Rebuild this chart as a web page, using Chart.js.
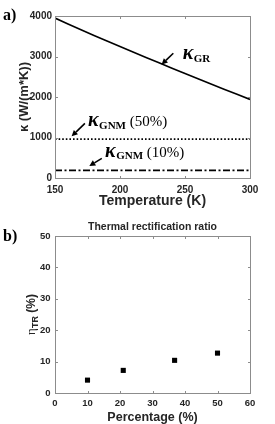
<!DOCTYPE html>
<html>
<head>
<meta charset="utf-8">
<script src="https://cdn.jsdelivr.net/npm/chart.js@4.4.1/dist/chart.umd.min.js"></script>
<style>
  html, body { margin: 0; padding: 0; background: #fff; }
  #wrap { position: relative; width: 275px; height: 424px; overflow: hidden; }
  canvas { position: absolute; left: 0; }
  .panel { position: absolute; font: bold 16px "Liberation Serif", "DejaVu Serif", serif; color: #000; line-height: 1; }
</style>
</head>
<body>
<div id="wrap">
  <canvas id="kChart" width="275" height="212" style="top:0"></canvas>
  <canvas id="trChart" width="275" height="212" style="top:212px"></canvas>
  <div class="panel" style="left:3px;top:7px">a)</div>
  <div class="panel" style="left:3px;top:228px">b)</div>
</div>
<script>
// panel a: thermal conductivity vs temperature
const tempK = [150, 160, 170, 180, 190, 200, 210, 220, 230, 240, 250, 260, 270, 280, 290, 300];
const kappaGR = [3950, 3805, 3662, 3521, 3382, 3245, 3110, 2976, 2843, 2711, 2580, 2450, 2321, 2193, 2066, 1940];
const gnmTemps = [150, 300];
const kappaGNM50 = [960, 960];
const kappaGNM10 = [190, 190];
const tempTicks = [150, 200, 250, 300];
const kappaTicks = [0, 1000, 2000, 3000, 4000];

// panel b: rectification ratio vs GNM percentage
const percentGNM = [10, 21, 36.8, 50];
const etaTR = [4.1, 7.2, 10.4, 12.7];
const percentTicks = [0, 10, 20, 30, 40, 50, 60];
const etaTicks = [0, 10, 20, 30, 40, 50];

const SANS = '"Liberation Sans", Arial, sans-serif';
const SERIF = '"Liberation Serif", "DejaVu Serif", serif';
const TEXT = '#262626';

// arrows + kappa labels, anchored in data units
const kLabels = [
  { sub: 'GR', suffix: '', at: [248.2, 2938], tail: [241, 3080], tip: [232, 2800] },
  { sub: 'GNM', suffix: ' (50%)', at: [175.4, 1272], tail: [173, 1350], tip: [162.8, 1030] },
  { sub: 'GNM', suffix: ' (10%)', at: [188.5, 519], tail: [186, 486], tip: [176.4, 296] },
];

function fixedTicks(list) {
  return scale => { scale.ticks = list.map(v => ({ value: v })); };
}

// MATLAB style box with inward ticks on all four sides
const framePlugin = {
  id: 'frame',
  afterDraw(chart) {
    const { ctx, chartArea: a, scales: { x, y } } = chart;
    const L = Math.round(a.left) + 0.5, R = Math.round(a.right) + 0.5;
    const T = Math.round(a.top) + 0.5, B = Math.round(a.bottom) + 0.5;
    ctx.save();
    ctx.strokeStyle = '#8c8c8c';
    ctx.lineWidth = 1;
    ctx.strokeRect(L, T, R - L, B - T);
    ctx.beginPath();
    x.ticks.forEach(t => {
      const px = Math.round(x.getPixelForValue(t.value)) + 0.5;
      ctx.moveTo(px, B); ctx.lineTo(px, B - 2.5);
      ctx.moveTo(px, T); ctx.lineTo(px, T + 2.5);
    });
    y.ticks.forEach(t => {
      const py = Math.round(y.getPixelForValue(t.value)) + 0.5;
      ctx.moveTo(L, py); ctx.lineTo(L + 2.5, py);
      ctx.moveTo(R, py); ctx.lineTo(R - 2.5, py);
    });
    ctx.stroke();
    ctx.restore();
  }
};

function arrow(ctx, x0, y0, x1, y1) {
  const ang = Math.atan2(y1 - y0, x1 - x0);
  const head = 6, half = 3;
  const bx = x1 - head * Math.cos(ang), by = y1 - head * Math.sin(ang);
  ctx.beginPath();
  ctx.moveTo(x0, y0); ctx.lineTo(bx, by);
  ctx.stroke();
  ctx.beginPath();
  ctx.moveTo(x1, y1);
  ctx.lineTo(bx + half * Math.sin(ang), by - half * Math.cos(ang));
  ctx.lineTo(bx - half * Math.sin(ang), by + half * Math.cos(ang));
  ctx.closePath();
  ctx.fill();
}

const kappaLabelPlugin = {
  id: 'kappaLabels',
  afterDraw(chart) {
    const { ctx, scales: { x, y } } = chart;
    ctx.save();
    ctx.fillStyle = '#000';
    ctx.strokeStyle = '#000';
    ctx.lineWidth = 1.6;
    ctx.textBaseline = 'alphabetic';
    kLabels.forEach(l => {
      arrow(ctx, x.getPixelForValue(l.tail[0]), y.getPixelForValue(l.tail[1]),
                 x.getPixelForValue(l.tip[0]), y.getPixelForValue(l.tip[1]));
      let px = x.getPixelForValue(l.at[0]);
      const py = y.getPixelForValue(l.at[1]);
      ctx.font = 'bold italic 20px ' + SERIF;
      ctx.fillText('κ', px, py);
      px += ctx.measureText('κ').width + 0.5;
      ctx.font = 'bold 11px ' + SERIF;
      ctx.fillText(l.sub, px, py + 2.5);
      px += ctx.measureText(l.sub).width;
      if (l.suffix) {
        ctx.font = '15px ' + SERIF;
        ctx.fillText(l.suffix, px, py);
      }
    });
    ctx.restore();
  }
};

// title and eta_TR y label of panel b
const trTextPlugin = {
  id: 'trText',
  afterDraw(chart) {
    const { ctx, chartArea: a } = chart;
    ctx.save();
    ctx.fillStyle = TEXT;
    ctx.font = 'bold 10.5px ' + SANS;
    ctx.textAlign = 'center';
    ctx.textBaseline = 'middle';
    ctx.fillText('Thermal rectification ratio', (a.left + a.right) / 2, a.top - 9);

    const cy = (a.top + a.bottom) / 2;
    const main = 'bold 12px ' + SANS, small = 'bold 9px ' + SANS;
    ctx.font = '13px ' + SERIF;
    const wEta = ctx.measureText('η').width;
    ctx.font = small;
    const wSub = ctx.measureText('TR').width;
    ctx.font = main;
    const wPct = ctx.measureText(' (%)').width;
    const total = wEta + wSub + wPct;
    ctx.translate(35, cy);
    ctx.rotate(-Math.PI / 2);
    ctx.textAlign = 'left';
    ctx.textBaseline = 'alphabetic';
    let px = -total / 2;
    ctx.font = '13px ' + SERIF;
    ctx.fillText('η', px, 0);
    px += wEta;
    ctx.font = small;
    ctx.fillText('TR', px, 3);
    px += wSub;
    ctx.font = main;
    ctx.fillText(' (%)', px, 0);
    ctx.restore();
  }
};

const plainTick = v => String(v);

new Chart(document.getElementById('kChart'), {
  type: 'line',
  data: {
    datasets: [
      { data: tempK.map((t, i) => ({ x: t, y: kappaGR[i] })), borderColor: '#000', borderWidth: 1.6, pointRadius: 0, tension: 0 },
      { data: gnmTemps.map((t, i) => ({ x: t, y: kappaGNM50[i] })), borderColor: '#000', borderWidth: 1.6, borderDash: [1.6, 2], pointRadius: 0 },
      { data: gnmTemps.map((t, i) => ({ x: t, y: kappaGNM10[i] })), borderColor: '#000', borderWidth: 1.8, borderDash: [7, 2.5, 2, 2.5], pointRadius: 0 },
    ]
  },
  options: {
    responsive: false,
    animation: false,
    devicePixelRatio: 1,
    layout: { padding: { top: 16, right: 25, left: 0, bottom: 0 } },
    plugins: { legend: { display: false }, tooltip: { enabled: false } },
    scales: {
      x: {
        type: 'linear', min: 150, max: 300,
        afterBuildTicks: fixedTicks(tempTicks),
        afterFit: s => { s.height = 34; },
        grid: { display: false, drawTicks: false }, border: { display: false },
        ticks: { color: TEXT, padding: 6.3, callback: plainTick, font: { family: SANS, size: 10, weight: 'bold' } },
        title: { display: true, text: 'Temperature (K)', color: TEXT, padding: { top: 0, bottom: 3.5 },
                 font: { family: SANS, size: 14, weight: 'bold', lineHeight: 1 } }
      },
      y: {
        type: 'linear', min: 0, max: 4000,
        afterBuildTicks: fixedTicks(kappaTicks),
        afterFit: s => { s.width = 55; },
        grid: { display: false, drawTicks: false }, border: { display: false },
        ticks: { color: TEXT, padding: 3, callback: plainTick, font: { family: SANS, size: 10, weight: 'bold' } },
        title: { display: true, text: 'κ (W/(m*K))', color: TEXT, padding: { top: 17.5, bottom: 0 },
                 font: { family: SANS, size: 13, weight: 'bold', lineHeight: 1 } }
      }
    }
  },
  plugins: [framePlugin, kappaLabelPlugin]
});

new Chart(document.getElementById('trChart'), {
  type: 'scatter',
  data: {
    datasets: [{
      data: percentGNM.map((p, i) => ({ x: p, y: etaTR[i] })),
      pointStyle: 'rect', pointRadius: 3.6, borderWidth: 0, backgroundColor: '#000'
    }]
  },
  options: {
    responsive: false,
    animation: false,
    devicePixelRatio: 1,
    layout: { padding: { top: 24, right: 25, left: 0, bottom: 0 } },
    plugins: { legend: { display: false }, tooltip: { enabled: false } },
    scales: {
      x: {
        type: 'linear', min: 0, max: 60,
        afterBuildTicks: fixedTicks(percentTicks),
        afterFit: s => { s.height = 31; },
        grid: { display: false, drawTicks: false }, border: { display: false },
        ticks: { color: TEXT, padding: 4.3, callback: plainTick, font: { family: SANS, size: 9.5, weight: 'bold' } },
        title: { display: true, text: 'Percentage (%)', color: TEXT, padding: { top: 0, bottom: 0 },
                 font: { family: SANS, size: 12.5, weight: 'bold', lineHeight: 1 } }
      },
      y: {
        type: 'linear', min: 0, max: 50,
        afterBuildTicks: fixedTicks(etaTicks),
        afterFit: s => { s.width = 55; },
        grid: { display: false, drawTicks: false }, border: { display: false },
        ticks: { color: TEXT, padding: 4.5, callback: plainTick, font: { family: SANS, size: 9.5, weight: 'bold' } }
      }
    }
  },
  plugins: [framePlugin, trTextPlugin]
});
</script>
</body>
</html>
